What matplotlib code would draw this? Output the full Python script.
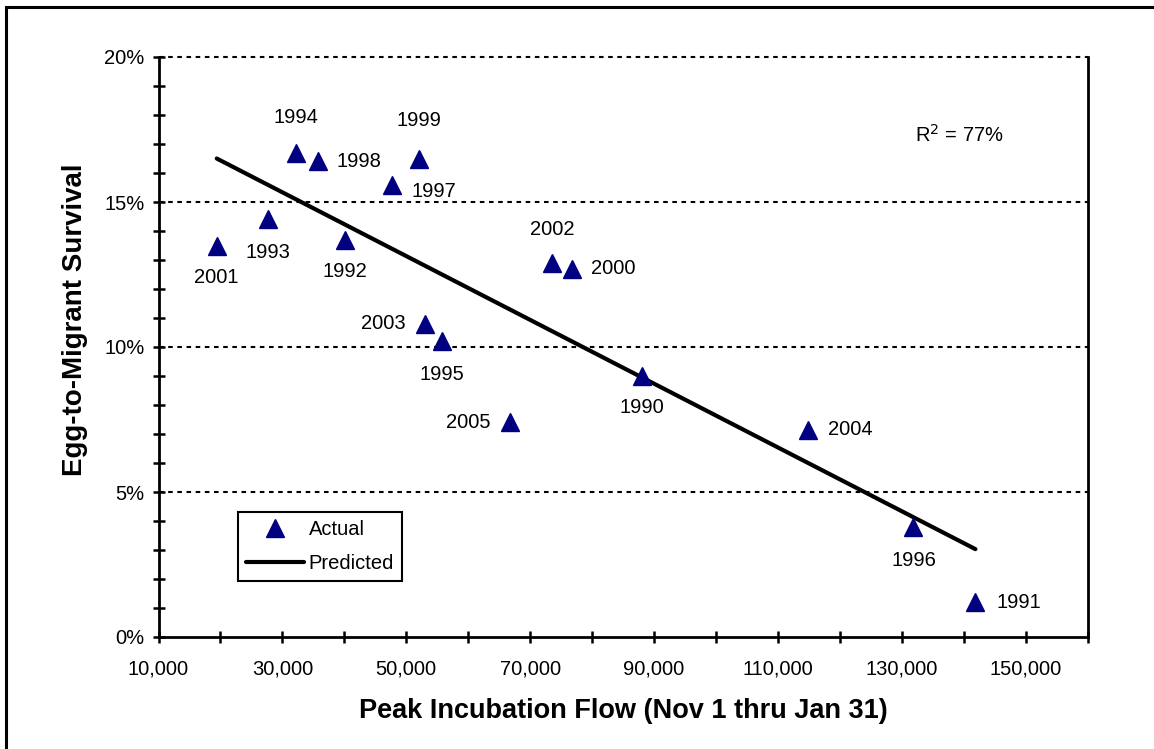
import matplotlib
matplotlib.use("Agg")
import matplotlib.pyplot as plt
from matplotlib.ticker import MultipleLocator, FuncFormatter, FixedLocator
from matplotlib.patches import Rectangle

plt.rcParams['font.family'] = ['Liberation Sans', 'DejaVu Sans']

years = ['2001', '1993', '1994', '1998', '1992', '1997', '1999', '2003', '1995',
         '2005', '2002', '2000', '1990', '2004', '1996', '1991']
flow = [19400, 27700, 32200, 35700, 40100, 47700, 52000, 53000, 55700,
        66700, 73600, 76700, 88100, 114900, 131900, 141900]
survival = [13.5, 14.4, 16.7, 16.4, 13.7, 15.6, 16.5, 10.8, 10.2,
            7.4, 12.9, 12.7, 9.0, 7.15, 3.8, 1.2]
# label offsets in points (dx, dy)
label_offsets = [(0, -23), (0, -24), (0, 25), (30, 0), (0, -23), (30, -5), (0, 27),
                 (-30, 0), (0, -24), (-30, 0), (0, 24), (30, 0), (0, -23), (30, 0),
                 (0, -24), (31, 0)]

pred_flow = [19400, 141900]
pred_surv = [16.5, 3.03]

W, H = 1154, 749
L, R, T, B = 158.5, 1087.5, 57, 637

fig = plt.figure(figsize=(W / 100, H / 100), dpi=100)
ax = fig.add_axes([L / W, 1 - B / H, (R - L) / W, (B - T) / H])

# outer border
fig.patches.append(Rectangle((6 / W, -0.1), 1.2, (1 - 7 / H) + 0.1, transform=fig.transFigure,
                             fill=False, edgecolor='black', linewidth=2.2, zorder=0))

ax.set_xlim(10000, 160000)
ax.set_ylim(0, 20)

for y in [5, 10, 15, 20]:
    ax.axhline(y, color='black', linestyle=(0, (2.2, 2.2)), linewidth=1.5, zorder=1, clip_on=False)

ax.plot(pred_flow, pred_surv, color='black', linewidth=3, solid_capstyle='round', zorder=2, label='Predicted')
ax.plot(flow, survival, linestyle='none', marker='^', markersize=12.5, color='#000080',
        markeredgecolor='#000080', zorder=3, label='Actual')

for yr, x, y, (dx, dy) in zip(years, flow, survival, label_offsets):
    ax.annotate(yr, (x, y), xytext=(dx, dy), textcoords='offset points',
                ha='center', va='center', fontsize=14.5)

fig.text(959 / W, 1 - 135 / H, r'R$^2$ = 77%', fontsize=14.5, ha='center', va='center')

ax.spines['top'].set_visible(False)
for s in ['left', 'bottom', 'right']:
    ax.spines[s].set_linewidth(2)

ax.xaxis.set_major_locator(FixedLocator([10000, 30000, 50000, 70000, 90000, 110000, 130000, 150000]))
ax.xaxis.set_minor_locator(MultipleLocator(10000))
ax.xaxis.set_major_formatter(FuncFormatter(lambda v, p: f'{int(v):,}'))
ax.yaxis.set_major_locator(MultipleLocator(5))
ax.yaxis.set_minor_locator(MultipleLocator(1))
ax.yaxis.set_major_formatter(FuncFormatter(lambda v, p: f'{v:.0f}%'))
ax.tick_params(axis='both', which='both', direction='inout', length=8.5, width=1.8, labelsize=14.5, colors='black')
ax.tick_params(axis='x', which='major', pad=12)
ax.tick_params(axis='y', which='major', pad=6)

ax.set_xlabel('Peak Incubation Flow (Nov 1 thru Jan 31)', fontsize=19.5, fontweight='bold')
ax.set_ylabel('Egg-to-Migrant Survival', fontsize=20, fontweight='bold')
ax.xaxis.set_label_coords(0.5, (B - 711) / (B - T))
ax.xaxis.label.set_va('center')
ax.yaxis.set_label_coords((75 - L) / (R - L), (B - 320) / (B - T))
ax.yaxis.label.set_va('center')
ax.yaxis.label.set_ha('center')

handles, labels = ax.get_legend_handles_labels()
leg = fig.legend([handles[1], handles[0]], [labels[1], labels[0]], loc='upper left',
                 bbox_to_anchor=(238 / W, 1 - 512 / H), fontsize=14.5, frameon=True,
                 fancybox=False, edgecolor='black', framealpha=1, borderpad=0.4,
                 handlelength=2.9, handletextpad=0.2, labelspacing=0.75, borderaxespad=0)
leg.get_frame().set_linewidth(1.5)

fig.savefig('out.png', dpi=100)
